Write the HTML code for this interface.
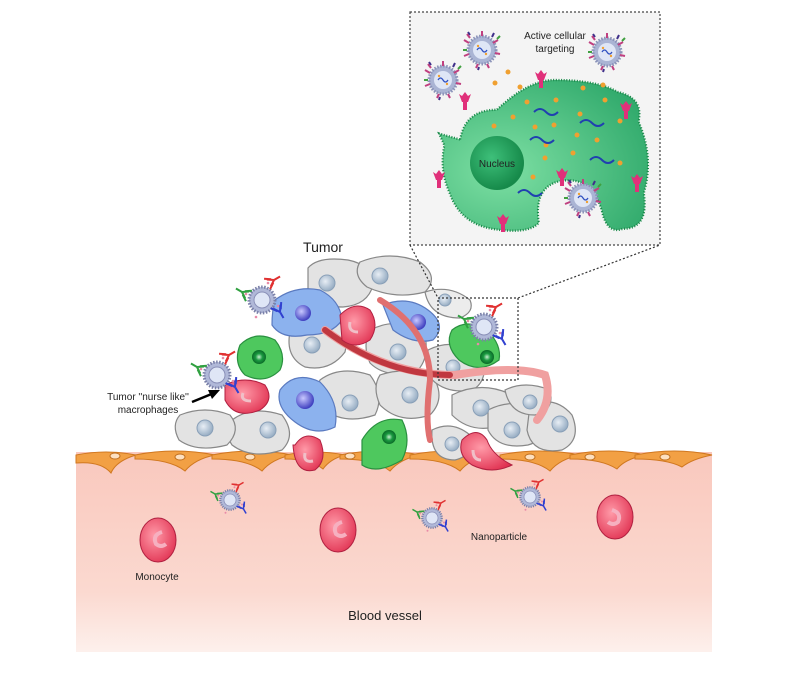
<!DOCTYPE html>
<html><head><meta charset="utf-8"><style>
html,body{margin:0;padding:0;background:#fff}
svg{display:block}
text{font-family:"Liberation Sans",Arial,sans-serif;fill:#222}
</style></head><body>
<svg width="800" height="673" viewBox="0 0 800 673" xmlns="http://www.w3.org/2000/svg">
<defs>
<linearGradient id="vessel" x1="0" y1="0" x2="0" y2="1">
<stop offset="0" stop-color="#f9c8bd"/><stop offset="0.7" stop-color="#fbd9d0"/><stop offset="1" stop-color="#fdf0ec"/></linearGradient>
<radialGradient id="nucG" cx="0.4" cy="0.4" r="0.6"><stop offset="0" stop-color="#e8eef5"/><stop offset="1" stop-color="#98aec4"/></radialGradient>
<radialGradient id="nucB" cx="0.4" cy="0.4" r="0.6"><stop offset="0" stop-color="#c8c8ff"/><stop offset="1" stop-color="#4040c0"/></radialGradient>
<radialGradient id="nucGr" cx="0.5" cy="0.5" r="0.5"><stop offset="0" stop-color="#c8f0d0"/><stop offset="0.5" stop-color="#1a9a40"/><stop offset="1" stop-color="#0a6a28"/></radialGradient>
<radialGradient id="redC" cx="0.4" cy="0.4" r="0.7"><stop offset="0" stop-color="#ff9aa8"/><stop offset="1" stop-color="#e03050"/></radialGradient>
<radialGradient id="bigCell" cx="0.3" cy="0.6" r="0.8"><stop offset="0" stop-color="#7ee0a4"/><stop offset="1" stop-color="#2ea86a"/></radialGradient>
<radialGradient id="nucleus" cx="0.4" cy="0.4" r="0.6"><stop offset="0" stop-color="#3ec07a"/><stop offset="1" stop-color="#168a4a"/></radialGradient>
<g id="Y"><path d="M0,0 v7 M0,0 l-4,-6 M0,0 l4,-6 M-2,-2 l-4,-6 M2,-2 l4,-6" fill="none" stroke-width="2"/></g>
<g id="np">
<circle r="13" fill="#b0b8d8" stroke="#7a80a8" stroke-width="3" stroke-dasharray="1.5 1.5"/>
<circle r="8" fill="#dfe6f6" stroke="#8a90b8"/>
<g fill="#e88aa8"><circle cx="-16" cy="-6" r="1.3"/><circle cx="16" cy="6" r="1.3"/><circle cx="-6" cy="17" r="1.3"/><circle cx="6" cy="-17" r="1.3"/></g>
<use href="#Y" stroke="#e03030" transform="translate(12,-20) rotate(-120)"/>
<use href="#Y" stroke="#3040d0" transform="translate(18,12) rotate(-30)"/>
<use href="#Y" stroke="#30a040" transform="translate(-20,-8) rotate(120)"/>
</g>
<g id="npi">
<circle r="14" fill="#aab4d4" stroke="#8a92b8" stroke-width="3" stroke-dasharray="1.5 1.5"/>
<circle r="9" fill="#dfe6f6"/>
<path d="M-5,0 q2.5,-4 5,0 t5,0" stroke="#3050c0" fill="none" stroke-width="1.2"/>
<circle cx="-4" cy="-4" r="1.2" fill="#f0a030"/><circle cx="4" cy="4" r="1.2" fill="#f0a030"/>
<path d="M-18,-10 l5,3 M-15,-16 l3,4 M16,-10 l-5,3 M18,4 l-5,-1 M-18,6 l5,-2 M-6,18 l2,-4 M7,18 l-2,-4 M0,-19 l0,5" stroke="#c04080" stroke-width="2"/>
<path d="M-14,-18 l2,3 M12,-17 l-2,4 M-4,20 l1,-3" stroke="#40308a" stroke-width="2"/>
<path d="M18,-14 l-3,3 M-19,0 l4,0" stroke="#40a040" stroke-width="2"/>
</g>
<g id="rec"><path d="M-6,-8 l3,8 h6 l3,-8 l-3,2 l-3,-4 l-3,4z M-2,0 v8 h4 v-8" fill="#e0307a"/></g>
</defs>

<rect x="76" y="452" width="636" height="200" fill="url(#vessel)"/>
<g fill="#f2a044" stroke="#d07820" stroke-width="1">
<path d="M76,455 q30,-6 60,0 q-20,6 -25,18 q-10,-12 -35,-10z"/>
<path d="M135,455 q40,-8 80,0 q-20,4 -30,16 q-15,-12 -50,-12z"/>
<path d="M212,455 q40,-8 80,0 q-20,4 -30,16 q-15,-12 -50,-12z"/>
<path d="M285,455 q30,-6 60,0 q-15,4 -22,14 q-12,-10 -38,-10z"/>
<path d="M340,455 q40,-8 80,0 q-20,4 -30,16 q-15,-12 -50,-12z"/>
<path d="M410,455 q40,-8 80,0 q-20,4 -30,16 q-15,-12 -50,-12z"/>
<path d="M500,455 q40,-8 80,0 q-20,4 -30,16 q-15,-12 -50,-12z"/>
<path d="M570,455 q40,-8 75,0 q-20,4 -28,14 q-15,-10 -47,-10z"/>
<path d="M635,455 q40,-8 77,0 q-20,4 -30,12 q-15,-8 -47,-8z"/>
</g>
<g fill="#fde0c0" stroke="#c07020"><ellipse cx="115" cy="456" rx="5" ry="3"/><ellipse cx="180" cy="457" rx="5" ry="3"/><ellipse cx="250" cy="457" rx="5" ry="3"/><ellipse cx="350" cy="456" rx="5" ry="3"/><ellipse cx="530" cy="457" rx="5" ry="3"/><ellipse cx="590" cy="457" rx="5" ry="3"/><ellipse cx="665" cy="457" rx="5" ry="3"/></g>

<g fill="#e3e3e3" stroke="#888" stroke-width="1.2">
<path d="M308,268 q10,-12 40,-8 q25,5 25,25 q-5,20 -30,22 q-30,0 -35,-15z"/>
<path d="M360,262 q30,-12 60,0 q20,15 5,30 q-30,8 -58,-5 q-15,-12 -7,-25z"/>
<path d="M290,332 q15,-25 45,-15 q15,15 10,35 q-15,20 -40,15 q-20,-10 -15,-35z"/>
<path d="M370,330 q30,-15 55,5 q5,25 -10,38 q-30,5 -45,-10 q-8,-18 0,-33z"/>
<path d="M320,380 q20,-15 50,-5 q15,20 5,40 q-30,10 -50,-5 q-12,-15 -5,-30z"/>
<path d="M380,375 q30,-10 55,5 q10,20 -5,35 q-30,10 -50,-10 q-8,-18 0,-30z"/>
<path d="M428,350 q30,-15 55,10 q5,20 -10,30 q-30,5 -45,-15z"/>
<path d="M452,395 q30,-15 60,0 q10,20 -10,30 q-30,10 -50,-10z"/>
<path d="M488,410 q30,-15 55,5 q5,25 -15,30 q-30,5 -40,-15z"/>
<path d="M530,405 q25,-10 42,10 q10,25 -10,35 q-30,5 -35,-20z"/>
<path d="M432,430 q20,-10 38,5 q5,20 -15,25 q-25,0 -23,-30z"/>
<path d="M232,420 q20,-15 50,-5 q15,20 0,35 q-30,10 -50,-5 q-10,-15 0,-25z"/>
<path d="M180,415 q25,-10 50,0 q12,15 -3,30 q-30,8 -48,-5 q-8,-15 1,-25z"/>
<path d="M425,292 q25,-8 45,8 q5,12 -10,18 q-30,0 -35,-26z" fill="#ececec"/>
<path d="M505,390 q20,-10 45,0 q5,20 -15,25 q-25,0 -30,-25z"/>
</g>
<g fill="url(#nucG)" stroke="#8aa0b8"><circle cx="327" cy="283" r="8"/><circle cx="380" cy="276" r="8"/><circle cx="312" cy="345" r="8"/><circle cx="398" cy="352" r="8"/><circle cx="350" cy="403" r="8"/><circle cx="410" cy="395" r="8"/><circle cx="453" cy="367" r="7"/><circle cx="481" cy="408" r="8"/><circle cx="512" cy="430" r="8"/><circle cx="560" cy="424" r="8"/><circle cx="452" cy="444" r="7"/><circle cx="268" cy="430" r="8"/><circle cx="205" cy="428" r="8"/><circle cx="445" cy="300" r="6"/><circle cx="530" cy="402" r="7"/></g>

<g fill="#8cb2ee" stroke="#5a7ac0" stroke-width="1.2">
<path d="M275,300 q20,-15 45,-10 q20,10 22,30 q-10,15 -35,15 q-25,5 -35,-10 q0,-15 3,-25z"/>
<path d="M280,390 q15,-20 40,-8 q20,20 15,45 q-20,10 -40,-5 q-20,-15 -15,-32z"/>
<path d="M383,305 q25,-10 45,5 q20,15 5,30 q-20,5 -40,-10z"/>
</g>
<g fill="url(#nucB)"><circle cx="303" cy="313" r="8"/><circle cx="305" cy="400" r="9"/><circle cx="418" cy="322" r="8"/></g>

<g fill="#4ec85e" stroke="#2a9040" stroke-width="1.2">
<path d="M240,345 q15,-15 35,-5 q12,15 5,30 q-15,15 -35,5 q-12,-12 -5,-30z"/>
<path d="M362,440 q15,-25 40,-20 q10,20 0,40 q-25,15 -40,5z"/>
<path d="M452,330 q15,-12 35,0 q15,15 12,30 q-20,15 -40,0 q-15,-15 -7,-30z"/>
</g>
<g fill="url(#nucGr)"><circle cx="259" cy="357" r="7"/><circle cx="389" cy="437" r="7"/><circle cx="487" cy="357" r="7"/></g>

<g fill="none" stroke-linecap="round">
<path d="M325,330 q60,45 130,45 q60,-10 90,0 q8,25 -8,45" stroke="#f0a0a0" stroke-width="8"/>
<path d="M325,330 q60,45 125,45" stroke="#c03840" stroke-width="6"/>
<path d="M380,300 q50,30 50,80 q-5,40 0,60" stroke="#e07070" stroke-width="6"/>
</g>

<g fill="url(#redC)" stroke="#b02040">
<path d="M340,315 q15,-15 30,-5 q10,15 0,30 q-15,10 -28,0z"/>
<path d="M225,385 q20,-10 40,0 q10,15 -5,25 q-25,10 -35,-10z"/>
<path d="M295,445 q10,-15 25,-5 q8,20 -5,30 q-20,5 -22,-25z"/>
<path d="M462,440 q15,-15 25,0 q5,15 25,25 q-20,10 -40,0 q-15,-10 -10,-25z"/>
</g>
<g fill="none" stroke="#f0c0c8" stroke-width="3"><path d="M350,322 q-2,10 8,10"/><path d="M243,393 q-3,8 8,8"/><path d="M305,453 q-2,10 8,8"/><path d="M473,450 q0,10 8,10"/></g>

<g fill="url(#redC)" stroke="#b02040"><ellipse cx="158" cy="540" rx="18" ry="22"/><ellipse cx="338" cy="530" rx="18" ry="22"/><ellipse cx="615" cy="517" rx="18" ry="22"/></g>
<g fill="none" stroke="#f6b0c0" stroke-width="4"><path d="M162,532 q-10,3 -6,12 q5,4 10,0"/><path d="M342,522 q-10,3 -6,12 q5,4 10,0"/><path d="M612,510 q10,3 6,12 q-5,4 -10,0"/></g>

<use href="#np" x="262" y="300"/>
<use href="#np" x="217" y="375"/>
<use href="#np" x="484" y="327"/>
<use href="#np" transform="translate(230,500) scale(0.75)"/>
<use href="#np" transform="translate(432,518) scale(0.75)"/>
<use href="#np" transform="translate(530,497) scale(0.75)"/>

<rect x="410" y="12" width="250" height="233" fill="#f4f4f4" stroke="#444" stroke-width="1.2" stroke-dasharray="2 2"/>
<path transform="translate(437,80) scale(1.05,1.19) translate(-418,-80)" d="M440,130 q5,-25 35,-25 q30,-25 55,-25 q40,0 60,10 q25,5 20,25 q15,30 5,60 q5,30 -20,30 q-15,5 -20,-15 q-10,-30 -40,-25 q-25,5 -20,35 q-10,10 -45,5 q-30,-5 -40,-30 q-10,-20 -5,-40 q-5,-10 -5,-10z" fill="url(#bigCell)" stroke="#1a8a4a" stroke-width="2" stroke-dasharray="1 1.5"/>
<circle cx="497" cy="163" r="27" fill="url(#nucleus)"/>
<text x="497" y="167" font-size="10" text-anchor="middle">Nucleus</text>
<use href="#npi" x="482" y="50"/><use href="#npi" x="443" y="80"/><use href="#npi" x="607" y="52"/><use href="#npi" x="583" y="198"/>
<g fill="#f0a030"><circle cx="508" cy="72" r="2.5"/><circle cx="495" cy="83" r="2.5"/><circle cx="520" cy="87" r="2.5"/><circle cx="583" cy="88" r="2.5"/><circle cx="603" cy="85" r="2.5"/><circle cx="605" cy="100" r="2.5"/><circle cx="527" cy="102" r="2.5"/><circle cx="556" cy="100" r="2.5"/><circle cx="513" cy="117" r="2.5"/><circle cx="494" cy="126" r="2.5"/><circle cx="535" cy="127" r="2.5"/><circle cx="554" cy="125" r="2.5"/><circle cx="580" cy="114" r="2.5"/><circle cx="620" cy="121" r="2.5"/><circle cx="577" cy="135" r="2.5"/><circle cx="597" cy="140" r="2.5"/><circle cx="546" cy="145" r="2.5"/><circle cx="573" cy="153" r="2.5"/><circle cx="545" cy="158" r="2.5"/><circle cx="620" cy="163" r="2.5"/><circle cx="533" cy="177" r="2.5"/></g>
<g fill="none" stroke="#2040b0" stroke-width="2"><path d="M534,112 q6,-6 12,0 t12,0"/><path d="M580,123 q6,-6 12,0 t12,0"/><path d="M530,140 q6,-6 12,0 t12,0"/><path d="M590,160 q6,-6 12,0 t12,0"/><path d="M518,193 q6,-6 12,0 t12,0"/></g>
<use href="#rec" x="541" y="80"/><use href="#rec" x="465" y="102"/><use href="#rec" x="626" y="111"/><use href="#rec" x="439" y="180"/><use href="#rec" x="637" y="184"/><use href="#rec" x="503" y="224"/><use href="#rec" x="562" y="178"/>
<text x="555" y="39" font-size="10" text-anchor="middle">Active cellular</text>
<text x="555" y="52" font-size="10" text-anchor="middle">targeting</text>

<rect x="438" y="298" width="80" height="82" fill="none" stroke="#333" stroke-width="1.2" stroke-dasharray="2 2"/>
<path d="M410,245 L438,298 M518,298 L660,245" stroke="#333" stroke-width="1.2" stroke-dasharray="2 2" fill="none"/>

<text x="323" y="252" font-size="14" text-anchor="middle">Tumor</text>
<text x="148" y="400" font-size="10" text-anchor="middle">Tumor ''nurse like''</text>
<text x="148" y="413" font-size="10" text-anchor="middle">macrophages</text>
<path d="M192,402 L214,393" stroke="#000" stroke-width="2.5"/><path d="M220,390 L208,390 L212,399z" fill="#000"/>
<text x="157" y="580" font-size="10" text-anchor="middle">Monocyte</text>
<text x="499" y="540" font-size="10" text-anchor="middle">Nanoparticle</text>
<text x="385" y="620" font-size="13" text-anchor="middle">Blood vessel</text>
</svg>
</body></html>
